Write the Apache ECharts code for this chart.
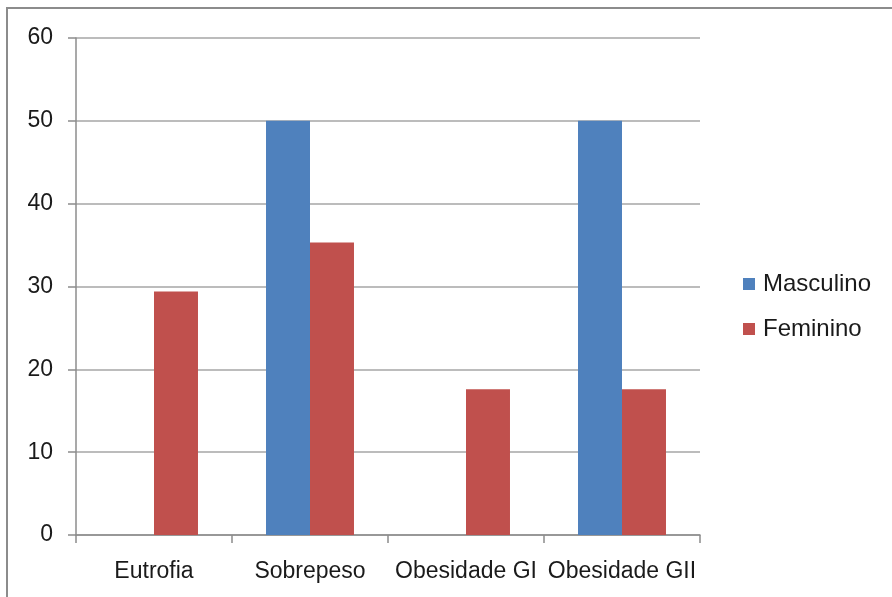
<!DOCTYPE html>
<html>
<head>
<meta charset="utf-8">
<script src="https://cdn.jsdelivr.net/npm/echarts@6/dist/echarts.min.js"></script>
<style>
  html, body { margin: 0; padding: 0; background: #fff; }
  #chart { width: 892px; height: 597px; }
</style>
</head>
<body>
<div id="chart"></div>
<script>
// Estado nutricional por sexo (%)
var categories = ['Eutrofia', 'Sobrepeso', 'Obesidade GI', 'Obesidade GII'];
var masculino = [0, 50, 0, 50];
var feminino = [29.4, 35.3, 17.6, 17.6];
var yTicks = { min: 0, max: 60, interval: 10 };

var FONT = '"Liberation Sans", Arial, sans-serif';
var chart = echarts.init(document.getElementById('chart'), null, { renderer: 'canvas' });

chart.setOption({
  backgroundColor: '#ffffff',
  animation: false,
  graphic: [{
    type: 'rect',
    shape: { x: 7, y: 8, width: 1000, height: 700 },
    style: { fill: 'none', stroke: '#8c8c8c', lineWidth: 2 },
    silent: true
  }],
  grid: { left: 76, right: 192, top: 38, bottom: 62, containLabel: false },
  legend: {
    orient: 'vertical',
    left: 738,
    top: 267,
    itemWidth: 12,
    itemHeight: 12,
    itemGap: 21,
    icon: 'rect',
    textStyle: { fontFamily: FONT, fontSize: 24, color: '#1a1a1a', padding: [0, 0, 0, 3] },
    data: ['Masculino', 'Feminino']
  },
  xAxis: {
    type: 'category',
    data: categories,
    axisLine: { show: true, lineStyle: { color: '#8c8c8c', width: 1.5 } },
    axisTick: { show: true, length: 8, alignWithLabel: false, lineStyle: { color: '#8c8c8c', width: 1.5 } },
    axisLabel: { fontFamily: FONT, fontSize: 23, color: '#1a1a1a', margin: 25, interval: 0 },
    splitLine: { show: false }
  },
  yAxis: {
    type: 'value',
    min: yTicks.min,
    max: yTicks.max,
    interval: yTicks.interval,
    axisLine: { show: true, lineStyle: { color: '#8c8c8c', width: 1.5 } },
    axisTick: { show: true, length: 8, lineStyle: { color: '#8c8c8c', width: 1.5 } },
    axisLabel: { fontFamily: FONT, fontSize: 23, color: '#1a1a1a', margin: 23 },
    splitLine: { show: true, lineStyle: { color: '#a6a6a6', width: 1.5 } }
  },
  series: [
    {
      name: 'Masculino',
      type: 'bar',
      data: masculino,
      barGap: '0%',
      barCategoryGap: '43.6%',
      itemStyle: { color: '#4F81BD' }
    },
    {
      name: 'Feminino',
      type: 'bar',
      data: feminino,
      barGap: '0%',
      barCategoryGap: '43.6%',
      itemStyle: { color: '#C0504D' }
    }
  ]
});
</script>
</body>
</html>
